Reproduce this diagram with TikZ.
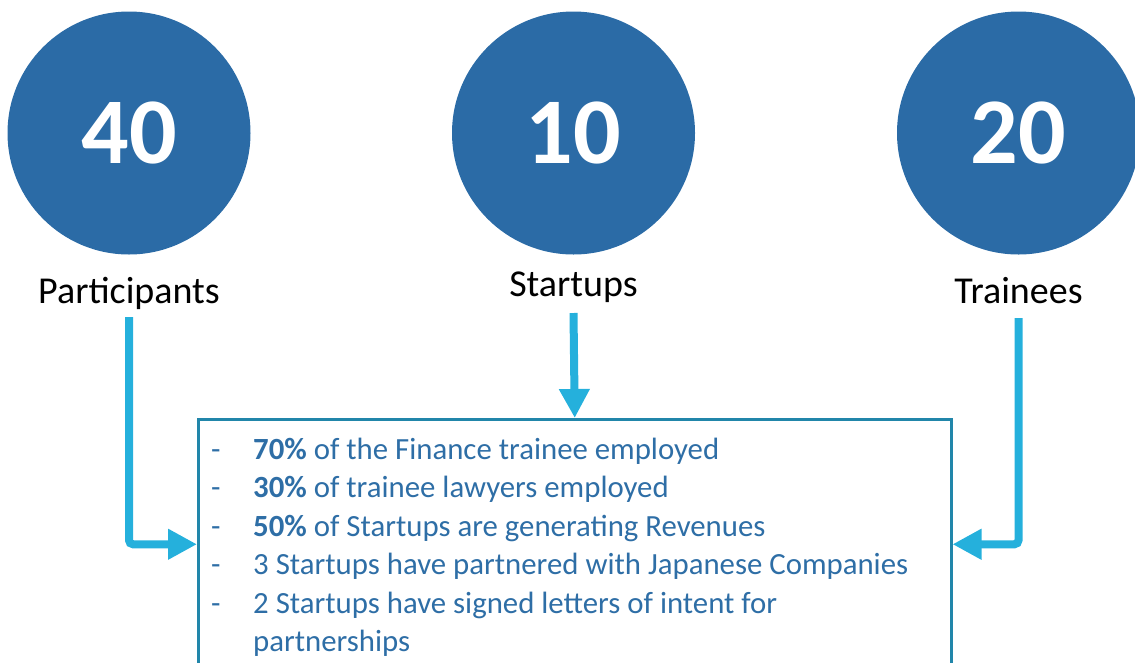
\documentclass[tikz,border=0pt]{standalone}
\usepackage{fontspec}
\setmainfont{Carlito}
\usepackage{tikz}
\definecolor{myblue}{RGB}{43,107,166}
\definecolor{mycyan}{RGB}{37,176,220}
\definecolor{myframe}{RGB}{33,134,170}
\definecolor{mytext}{RGB}{46,110,166}
\usetikzlibrary{positioning, arrows.meta}
\tikzset{count/.style={circle,fill=myblue,minimum size=243pt,inner sep=0pt,text=white,font=\fontsize{94}{94}\selectfont\bfseries}}
\tikzset{caption/.style={inner sep=0pt,font=\fontsize{38}{38}\selectfont}}
\tikzset{flow/.style={draw=mycyan,line width=8pt,rounded corners=4pt,-{Triangle[length=29pt,width=29pt]}}}
\tikzset{factbox/.style={draw=myframe,line width=2.5pt,minimum width=753pt,minimum height=250pt,inner sep=0pt}}
\tikzset{facttext/.style={inner sep=0pt,text=mytext,font=\fontsize{30.8}{38.5}\selectfont}}

\begin{document}
\begin{tikzpicture}[x=1pt,y=-1pt]
\useasboundingbox (0,0) rectangle (1135,662);

% Define circles
\node[count] (c40) at (129,133) {40};
\node[count] (c10) at (573.5,133) {10};
\node[count] (c20) at (1018.5,133) {20};

% Captions below circles
\node[caption, below=22pt of c40] (participants) {Participants};
\node[caption, below=17pt of c10] (startups) {Startups};
\node[caption, below=22pt of c20] (trainees) {Trainees};

% Result box
\node[factbox, anchor=north west] (box) at (197,418) {};
\node[facttext, anchor=north west] (facts) at ([shift={(14,14)}]box.north west) {%
\begin{tabular}{@{}p{42pt}@{}l@{}}
- & \textbf{70\%} of the Finance trainee employed\\
- & \textbf{30\%} of trainee lawyers employed\\
- & \textbf{50\%} of Startups are generating Revenues\\
- & 3 Startups have partnered with Japanese Companies\\
- & 2 Startups have signed letters of intent for\\
  & partnerships
\end{tabular}};

% Draw arrows into the box
\coordinate (p0) at (129,317);
\coordinate (s0) at (573.5,313);
\coordinate (t0) at (1018.5,318);
\path[flow] (p0) |- (box.west);
\path[flow] (s0) -- (box.north);
\path[flow] (t0) |- (box.east);

\end{tikzpicture}
\end{document}
